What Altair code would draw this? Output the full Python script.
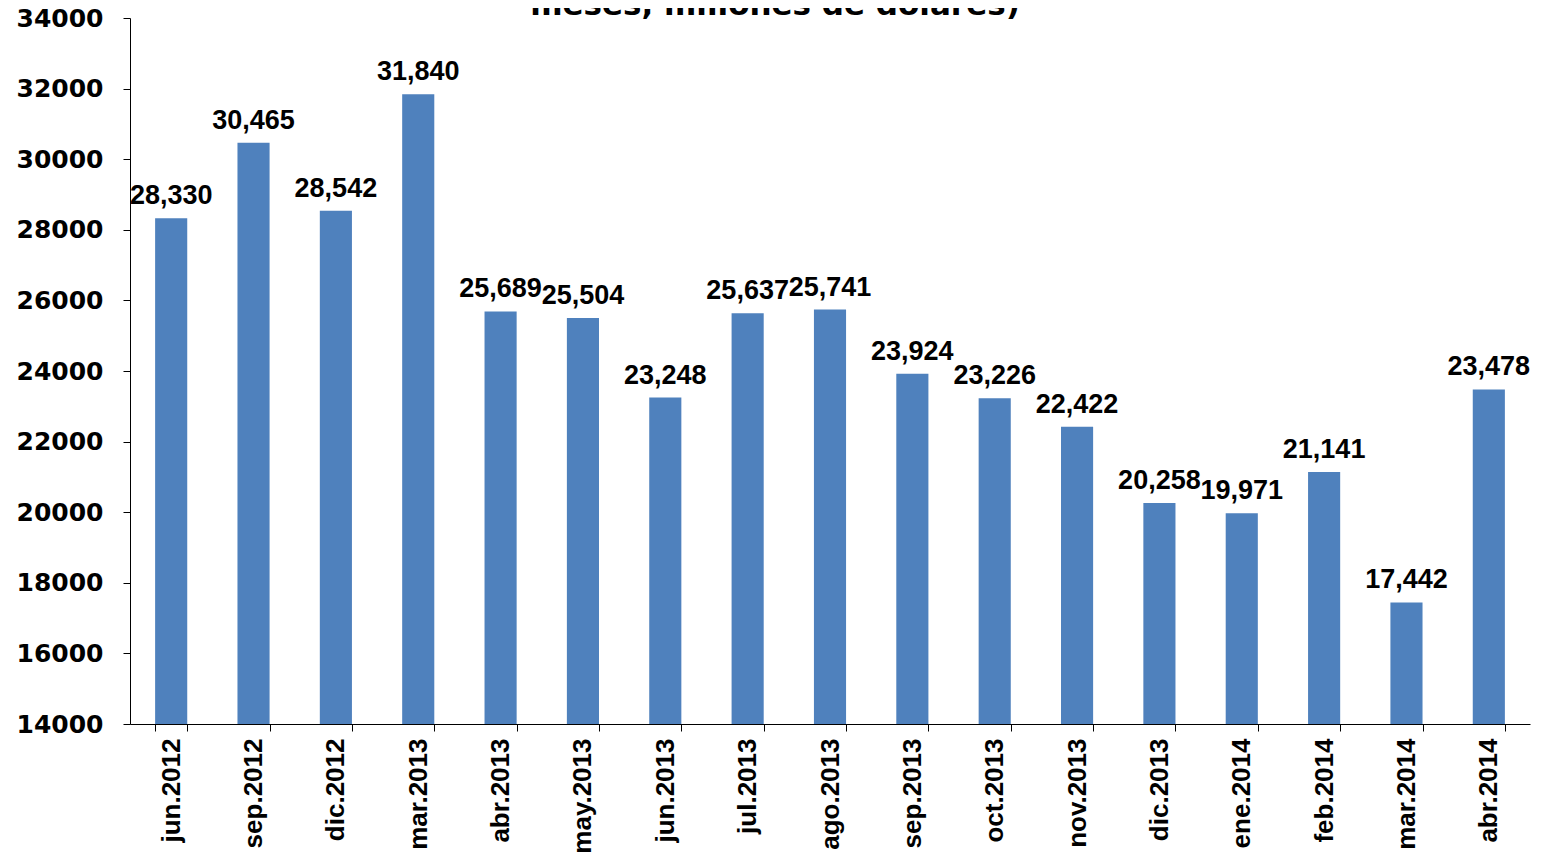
import altair as alt
import pandas as pd

months = ["jun.2012", "sep.2012", "dic.2012", "mar.2013", "abr.2013", "may.2013",
          "jun.2013", "jul.2013", "ago.2013", "sep.2013", "oct.2013", "nov.2013",
          "dic.2013", "ene.2014", "feb.2014", "mar.2014", "abr.2014"]
values = [28330, 30465, 28542, 31840, 25689, 25504, 23248, 25637, 25741,
          23924, 23226, 22422, 20258, 19971, 21141, 17442, 23478]
title_text = "meses, millones de dólares)"

df = pd.DataFrame({"mes": months, "valor": values})
df["etiqueta"] = [f"{v:,}" for v in values]

FONT = "Liberation Sans"
WIDE = "DejaVu Sans"

x = alt.X("mes:N", sort=months, title=None,
          scale=alt.Scale(paddingInner=0.61, paddingOuter=0.305),
          axis=alt.Axis(labelAngle=-90, labelFont=FONT, labelFontSize=26,
                        labelFontWeight="bold", labelColor="black",
                        domainColor="black", tickColor="black", tickSize=7,
                        tickBand="extent", labelPadding=7, labelBaseline="middle",
                        labelAlign="right"))
y = alt.Y("valor:Q", title=None,
          scale=alt.Scale(domain=[14000, 34000], nice=False, zero=False),
          axis=alt.Axis(values=list(range(14000, 34001, 2000)), grid=False,
                        format="d",
                        labelFont=WIDE, labelFontSize=25, labelFontWeight="bold",
                        labelColor="black", domainColor="black", tickColor="black",
                        tickSize=7, labelPadding=20))

bars = alt.Chart(df).mark_bar(color="#4F81BD").encode(
    x=x, y=y, y2=alt.datum(14000))

labels = alt.Chart(df).mark_text(font=FONT, fontSize=27, fontWeight="bold",
                                 color="black", baseline="bottom", dy=-8).encode(
    x=alt.X("mes:N", sort=months), y="valor:Q", text="etiqueta:N")

title = alt.Chart(pd.DataFrame({"t": [title_text]})).mark_text(
    font=WIDE, fontSize=31, fontWeight="bold", color="black",
    baseline="alphabetic", align="center").encode(
    x=alt.value(645), y=alt.value(-3), text="t:N")

chart = alt.layer(bars, labels, title).properties(
    width=1400, height=706,
    autosize=alt.AutoSizeParams(type="none"),
    padding={"left": 122, "top": 10, "right": 2, "bottom": 129},
).configure(background="white").configure_view(stroke=None)

chart.save("out.html", embed_options={"renderer": "svg", "actions": False})
